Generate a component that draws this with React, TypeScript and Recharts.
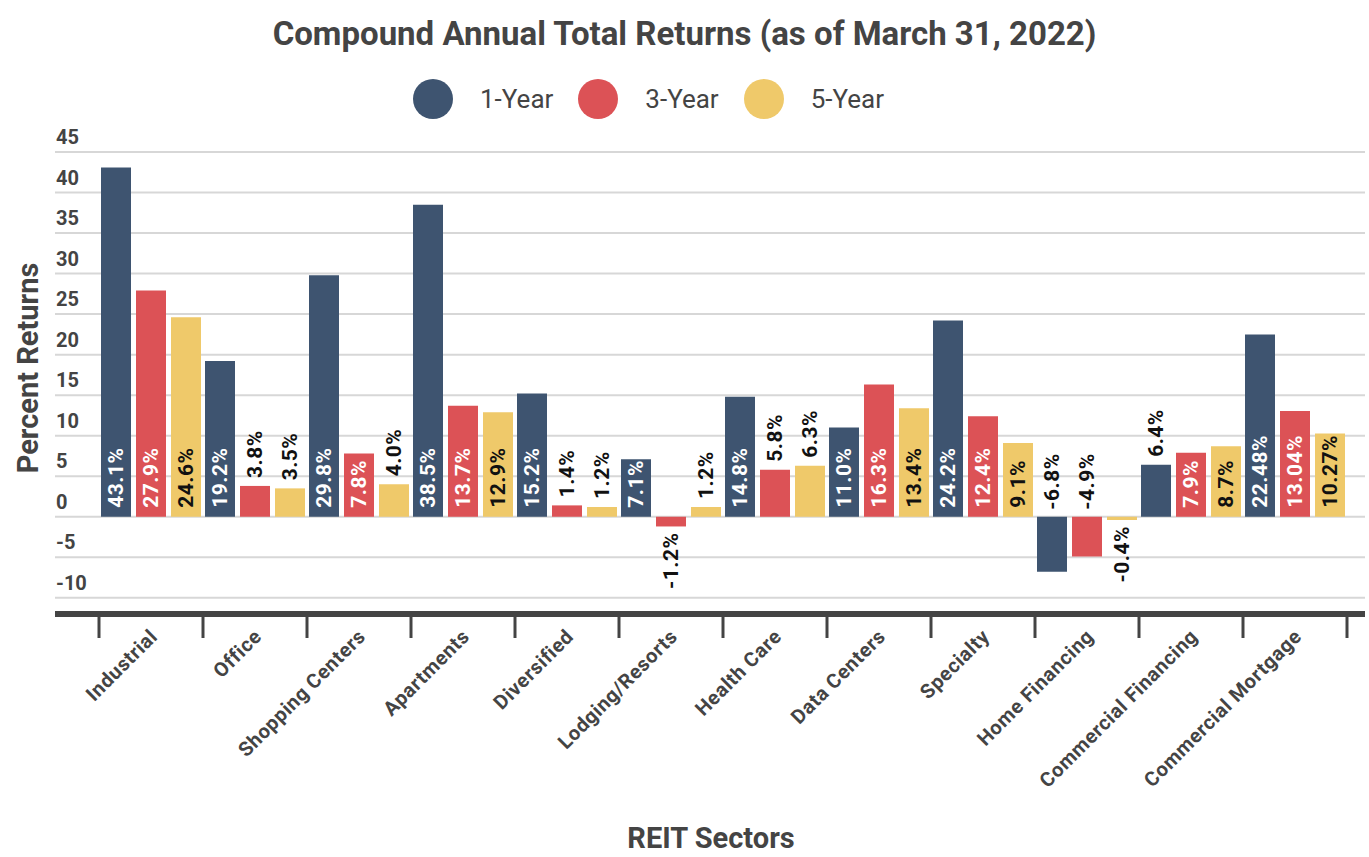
import React from 'react';
import { BarChart, Bar, XAxis, YAxis, CartesianGrid, LabelList } from 'recharts';

const categories = [
  'Industrial',
  'Office',
  'Shopping Centers',
  'Apartments',
  'Diversified',
  'Lodging/Resorts',
  'Health Care',
  'Data Centers',
  'Specialty',
  'Home Financing',
  'Commercial Financing',
  'Commercial Mortgage',
];

const oneYear = [43.1, 19.2, 29.8, 38.5, 15.2, 7.1, 14.8, 11.0, 24.2, -6.8, 6.4, 22.48];
const threeYear = [27.9, 3.8, 7.8, 13.7, 1.4, -1.2, 5.8, 16.3, 12.4, -4.9, 7.9, 13.04];
const fiveYear = [24.6, 3.5, 4.0, 12.9, 1.2, 1.2, 6.3, 13.4, 9.1, -0.4, 8.7, 10.27];

// labels as printed in the source (some carry two decimals)
const oneYearLabels = ['43.1%', '19.2%', '29.8%', '38.5%', '15.2%', '7.1%', '14.8%', '11.0%', '24.2%', '-6.8%', '6.4%', '22.48%'];
const threeYearLabels = ['27.9%', '3.8%', '7.8%', '13.7%', '1.4%', '-1.2%', '5.8%', '16.3%', '12.4%', '-4.9%', '7.9%', '13.04%'];
const fiveYearLabels = ['24.6%', '3.5%', '4.0%', '12.9%', '1.2%', '1.2%', '6.3%', '13.4%', '9.1%', '-0.4%', '8.7%', '10.27%'];

const yTicks = [-10, -5, 0, 5, 10, 15, 20, 25, 30, 35, 40, 45];

const series = [
  { key: 'oneYear', name: '1-Year', color: '#3e5470', inside: '#ffffff', labels: oneYearLabels },
  { key: 'threeYear', name: '3-Year', color: '#dc5256', inside: '#ffffff', labels: threeYearLabels },
  { key: 'fiveYear', name: '5-Year', color: '#efc96a', inside: '#111111', labels: fiveYearLabels },
];

const data = categories.map((name, i) => ({
  name,
  oneYear: oneYear[i],
  threeYear: threeYear[i],
  fiveYear: fiveYear[i],
}));

const W = 1369;
const H = 857;
const M_LEFT = 55;
const M_RIGHT = 4;
const M_TOP = 152;
const X_AXIS_H = 243;
const PAD_L = 44;
const PAD_R = 18;
const BAND = (W - M_LEFT - M_RIGHT - PAD_L - PAD_R) / categories.length;
const TEXT = '#444444';
const FONT = 'Roboto, "DejaVu Sans", sans-serif';

const YTick = (props: any) => {
  const { y, payload } = props;
  return (
    <text x={M_LEFT + 1} y={y - 8} fill={TEXT} fontSize={20} fontWeight={700} fontFamily={FONT}>
      {payload.value}
    </text>
  );
};

const XTick = (props: any) => {
  const { x, y, payload, index } = props;
  const ax = x - 3;
  const ay = y + 13;
  return (
    <g>
      <line x1={x - BAND / 2} x2={x - BAND / 2} y1={y} y2={y + 24} stroke={TEXT} strokeWidth={3} />
      {index === categories.length - 1 && (
        <line x1={x + BAND / 2} x2={x + BAND / 2} y1={y} y2={y + 24} stroke={TEXT} strokeWidth={3} />
      )}
      <text
        x={ax}
        y={ay}
        transform={`rotate(-45, ${ax}, ${ay})`}
        textAnchor="end"
        dominantBaseline="hanging"
        fill={TEXT}
        fontSize={20}
        letterSpacing={0.6}
        fontWeight={700}
        fontFamily={FONT}
      >
        {payload.value}
      </text>
    </g>
  );
};

const makeLabel = (labels: string[], insideColor: string) => (props: any) => {
  const { x, y, width, height, value, index } = props;
  const v = Number(value);
  const top = Math.min(y, y + height);
  const bottom = Math.max(y, y + height);
  const cx = x + width / 2;
  const fits = Math.abs(v) >= 7;
  let py = 0;
  let anchor: 'start' | 'end' = 'start';
  let fill = '#111111';
  if (v >= 0) {
    if (fits) {
      py = bottom - 9;
      fill = insideColor;
    } else {
      py = top - 8;
    }
  } else if (Math.abs(v) >= 3) {
    py = top - 7;
  } else {
    py = bottom + 6;
    anchor = 'end';
  }
  return (
    <text
      x={cx}
      y={py}
      transform={`rotate(-90, ${cx}, ${py})`}
      textAnchor={anchor}
      dominantBaseline="central"
      fill={fill}
      fontSize={21}
      letterSpacing={0.5}
      fontWeight={700}
      fontFamily={FONT}
    >
      {labels[index]}
    </text>
  );
};

export default function App() {
  return (
    <div style={{ position: 'absolute', left: 0, top: 0, width: W, height: H, background: '#fff', fontFamily: FONT }}>
      <div
        style={{
          position: 'absolute',
          left: 0,
          top: 14,
          width: W,
          textAlign: 'center',
          fontSize: 33,
          lineHeight: '40px',
          fontWeight: 700,
          color: TEXT,
        }}
      >
        Compound Annual Total Returns (as of March 31, 2022)
      </div>

      <div style={{ position: 'absolute', left: 413, top: 79, height: 40, display: 'flex', alignItems: 'center' }}>
        {series.map((s) => (
          <div key={s.key} style={{ display: 'flex', alignItems: 'center', marginRight: 25 }}>
            <div style={{ width: 40, height: 40, borderRadius: 20, background: s.color }} />
            <span style={{ marginLeft: 27, fontSize: 26, color: TEXT, lineHeight: '40px' }}>{s.name}</span>
          </div>
        ))}
      </div>

      <div
        style={{
          position: 'absolute',
          left: 28,
          top: 368,
          transform: 'translate(-50%, -50%) rotate(-90deg)',
          whiteSpace: 'nowrap',
          fontSize: 29,
          fontWeight: 700,
          color: TEXT,
        }}
      >
        Percent Returns
      </div>

      <div
        style={{
          position: 'absolute',
          left: 0,
          top: 820,
          width: 1422,
          textAlign: 'center',
          fontSize: 29,
          lineHeight: '36px',
          fontWeight: 700,
          color: TEXT,
        }}
      >
        REIT Sectors
      </div>

      <div style={{ position: 'absolute', left: 0, top: 0 }}>
        <BarChart
          width={W}
          height={H}
          data={data}
          margin={{ top: M_TOP, right: M_RIGHT, left: 0, bottom: 0 }}
          barSize={30}
          barGap={5}
        >
          <CartesianGrid vertical={false} stroke="#d7d7d7" strokeWidth={2} />
          <YAxis
            width={M_LEFT}
            domain={[-12, 45]}
            ticks={yTicks}
            interval={0}
            axisLine={false}
            tickLine={false}
            tick={<YTick />}
            allowDataOverflow
          />
          <XAxis
            dataKey="name"
            height={X_AXIS_H}
            interval={0}
            padding={{ left: PAD_L, right: PAD_R }}
            axisLine={{ stroke: TEXT, strokeWidth: 6 }}
            tickLine={false}
            tickSize={0}
            tickMargin={0}
            tick={<XTick />}
          />
          {series.map((s) => (
            <Bar key={s.key} dataKey={s.key} name={s.name} fill={s.color} isAnimationActive={false}>
              <LabelList dataKey={s.key} content={makeLabel(s.labels, s.inside)} />
            </Bar>
          ))}
        </BarChart>
      </div>
    </div>
  );
}
